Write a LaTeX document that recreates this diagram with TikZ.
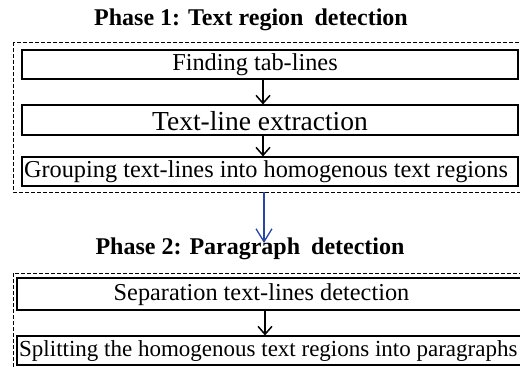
\documentclass[tikz,border=0pt]{standalone}
\usepackage{fontspec}
\setmainfont{Liberation Serif}
\usetikzlibrary{arrows.meta}

\definecolor{phaseblue}{RGB}{40,70,170}
\tikzset{
  stepbox/.style={draw,line width=1.1pt,minimum width=496pt,inner sep=0pt},
  steptext/.style={font=\fontsize{24.3}{28}\selectfont,inner sep=0pt},
  phasetitle/.style={font=\bfseries\fontsize{24}{28}\selectfont,inner sep=0pt},
  phasebox/.style={draw,dash pattern=on 4pt off 2pt,line width=0.8pt},
  flow/.style={-{Straight Barb[length=8pt,width=14pt]},line width=1.5pt}
}

\begin{document}
\begin{tikzpicture}[x=1pt,y=-1pt]
    \useasboundingbox (0,0) rectangle (520,367);

    % phase 1
    \node[phasetitle] (title1) at (251,20) {Phase 1: Text region\hspace{5pt} detection};
    \draw[phasebox] (13,42) rectangle (530,192);
    \node[stepbox,minimum height=29pt] (find) at (270,64.5) {};
    \node[stepbox,minimum height=30pt] (extract) at (270,120) {};
    \node[stepbox,minimum height=29pt] (group) at (270,171.5) {};
    \node[steptext] at (255,65) {Finding tab-lines};
    \node[steptext,font=\fontsize{27.5}{30}\selectfont] at (260,121) {Text-line extraction};
    \node[steptext] at (266,172) {Grouping text-lines into homogenous text regions};

    \draw[flow] (find.south -| 263,0) -- (extract.north -| 263,0);
    \draw[flow] (extract.south -| 263,0) -- (group.north -| 263,0);

    % phase 2
    \coordinate (out1) at (264,192);
    \node[phasetitle] (title2) at (250,249) {Phase 2: Paragraph\hspace{5pt} detection};
    \draw[flow,phaseblue,line width=1.3pt,-{Straight Barb[length=13pt,width=16pt]}] (out1) -- (264,243);
    \draw[phasebox] (13,273) rectangle (530,380);
    \node[stepbox,minimum width=520pt,minimum height=32pt] (sep) at (277,294) {};
    \node[stepbox,minimum width=520pt,minimum height=29pt] (split) at (277,350.5) {};
    \node[steptext] at (261.5,295) {Separation text-lines detection};
    \node[steptext,font=\fontsize{23}{26}\selectfont,anchor=west] at (19,351) {Splitting the homogenous text regions into paragraphs};

    \draw[flow] (sep.south -| 265,0) -- (split.north -| 265,0);
\end{tikzpicture}
\end{document}
